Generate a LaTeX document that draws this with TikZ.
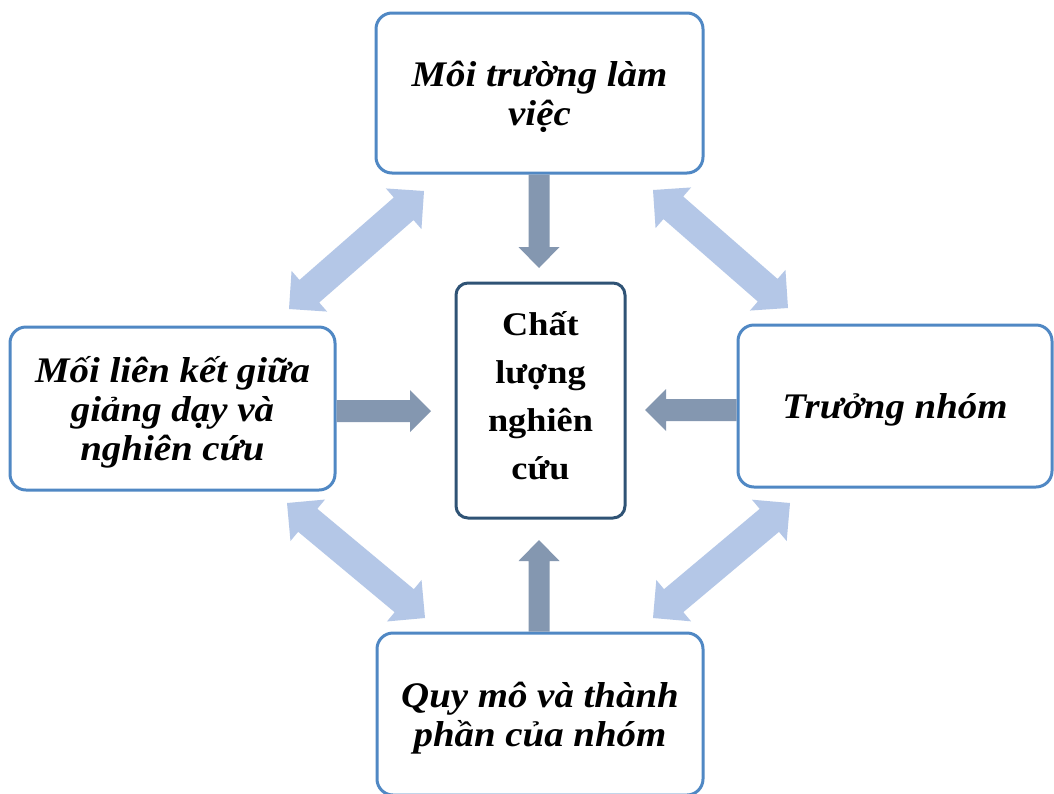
\documentclass[tikz,border=0pt]{standalone}
\usepackage{fontspec}
\setmainfont{Liberation Serif}
\newfontfamily\outerfont[FakeStretch=1.08]{Liberation Serif}
\newfontfamily\centerfont[FakeStretch=1.1]{Liberation Serif}
\usetikzlibrary{calc}
\definecolor{lightarrow}{HTML}{B4C7E7}
\definecolor{darkarrow}{HTML}{8497B0}
\definecolor{outerborder}{HTML}{5088C4}
\definecolor{centerborder}{HTML}{2F5375}
% single fat arrow: #1 from, #2 tip, #3 half shaft, #4 half head, #5 head length, #6 style
\newcommand\fatarrow[6]{%
  \fill[#6] ($(#1)!#3!90:(#2)$)
    -- ($(#2)!#5!(#1)!#3!-90:(#1)$)
    -- ($(#2)!#5!(#1)!#4!-90:(#1)$)
    -- (#2)
    -- ($(#2)!#5!(#1)!#4!90:(#1)$)
    -- ($(#2)!#5!(#1)!#3!90:(#1)$)
    -- ($(#1)!#3!-90:(#2)$) -- cycle;}
% double fat arrow between tips #1 and #2
\newcommand\fatdblarrow[6]{%
  \fill[#6] (#1)
    -- ($(#1)!#5!(#2)!#4!90:(#2)$)
    -- ($(#1)!#5!(#2)!#3!90:(#2)$)
    -- ($(#2)!#5!(#1)!#3!-90:(#1)$)
    -- ($(#2)!#5!(#1)!#4!-90:(#1)$)
    -- (#2)
    -- ($(#2)!#5!(#1)!#4!90:(#1)$)
    -- ($(#2)!#5!(#1)!#3!90:(#1)$)
    -- ($(#1)!#5!(#2)!#3!-90:(#2)$)
    -- ($(#1)!#5!(#2)!#4!-90:(#2)$) -- cycle;}
\tikzset{
  outerbox/.style={draw=outerborder, line width=3pt, fill=white, rounded corners=16pt,
    align=center, inner sep=0pt, text depth=0pt,
    font=\outerfont\bfseries\itshape\fontsize{36}{39}\selectfont},
  centerbox/.style={draw=centerborder, line width=3pt, fill=white, rounded corners=12pt,
    align=center, inner sep=0pt, text depth=10pt,
    font=\centerfont\bfseries\fontsize{33}{48}\selectfont},
  lightfill/.style={fill=lightarrow},
  darkfill/.style={fill=darkarrow}
}
\begin{document}
\begin{tikzpicture}[x=1pt,y=-1pt]
\useasboundingbox (0,0) rectangle (1054,793);
\clip (0,0) rectangle (1054,793);
\fill[white] (0,0) rectangle (1054,793);

% coordinates for arrow ends
\coordinate (ulA) at (289,309);
\coordinate (ulB) at (424,191);
\coordinate (urA) at (653,190);
\coordinate (urB) at (788,308);
\coordinate (llA) at (287,503);
\coordinate (llB) at (425,618);
\coordinate (lrA) at (653,618);
\coordinate (lrB) at (790,503);
\coordinate (toptip) at (539,268);
\coordinate (bottip) at (539,540);
\coordinate (lefttip) at (431,411);
\coordinate (righttip) at (645,410);

% boxes
\node[outerbox, minimum width=327pt, minimum height=160pt] (top) at (539.5,93)
  {Môi trường làm\\việc};
\node[outerbox, minimum width=325pt, minimum height=163pt] (left) at (172.5,408.5)
  {Mối liên kết giữa\\giảng dạy và\\nghiên cứu};
\node[outerbox, minimum width=314pt, minimum height=162pt] (right) at (895,406)
  {Trưởng nhóm};
\node[outerbox, minimum width=326pt, minimum height=162pt] (bottom) at (540,714)
  {Quy mô và thành\\phần của nhóm};
\node[centerbox, minimum width=169pt, minimum height=235pt] (center) at (540.5,400.5)
  {Chất\\lượng\\nghiên\\cứu};

% dark single arrows
\fatarrow{top.south -| toptip}{toptip}{10.5pt}{20.5pt}{21pt}{darkfill}
\fatarrow{bottom.north -| bottip}{bottip}{10.5pt}{20.5pt}{21pt}{darkfill}
\fatarrow{left.east |- lefttip}{lefttip}{11pt}{21pt}{21pt}{darkfill}
\fatarrow{right.west |- righttip}{righttip}{11pt}{21pt}{21pt}{darkfill}

% light double arrows
\fatdblarrow{ulA}{ulB}{15pt}{27pt}{27pt}{lightfill}
\fatdblarrow{urA}{urB}{15pt}{27pt}{27pt}{lightfill}
\fatdblarrow{llA}{llB}{15pt}{27pt}{27pt}{lightfill}
\fatdblarrow{lrA}{lrB}{15pt}{27pt}{27pt}{lightfill}
\end{tikzpicture}
\end{document}
